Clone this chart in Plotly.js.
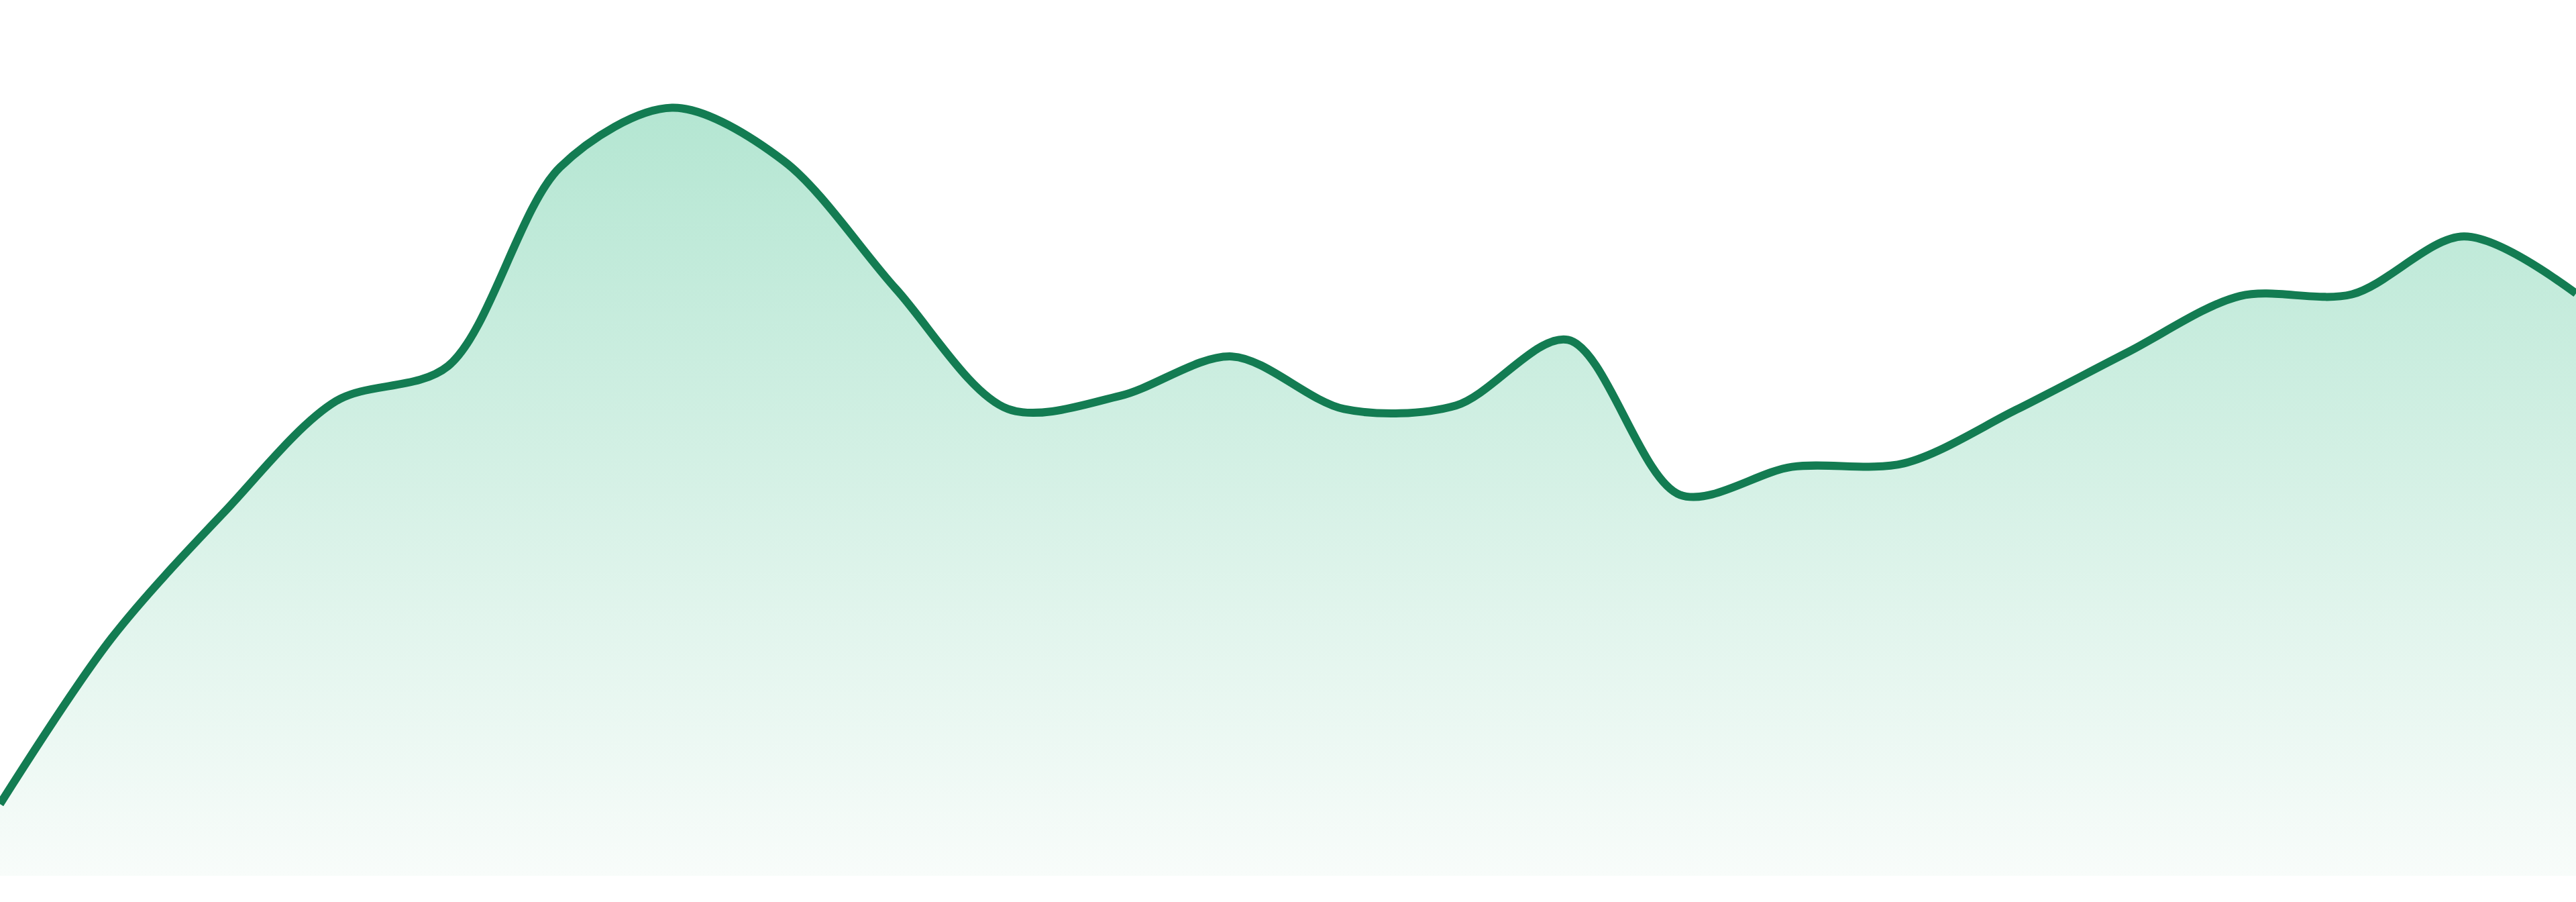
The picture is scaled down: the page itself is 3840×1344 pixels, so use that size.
<!DOCTYPE html>
<html>
<head>
<meta charset="utf-8">
<script src="https://cdn.plot.ly/plotly-3.0.1.min.js"></script>
<style>
  html, body { margin: 0; padding: 0; background: #fff; }
  #chart { width: 3840px; height: 1344px; }
</style>
</head>
<body>
<div id="chart"></div>
<script>
// one point per step (0 = baseline, 100 = top of plot)
let steps = [0, 1, 2, 3, 4, 5, 6, 7, 8, 9, 10, 11,
             12, 13, 14, 15, 16, 17, 18, 19, 20, 21, 22, 23];
let values = [8.2, 27.2, 41.5, 54.2, 58.2, 80.9, 87.7, 81.6, 67.0, 53.3, 54.8, 59.3,
              53.3, 53.7, 61.2, 43.5, 46.7, 47.1, 53.2, 59.8, 66.2, 66.4, 73.0, 66.5];

let lineColor = '#137c52';
let fillTop = '#b4e6d2';
let fillBottom = '#f8fcfa';

Plotly.newPlot('chart', [{
    x: steps,
    y: values,
    mode: 'lines',
    line: {color: lineColor, width: 12, shape: 'spline', smoothing: 0.9},
    fill: 'tozeroy',
    fillgradient: {
      type: 'vertical',
      start: 0,
      stop: Math.max(...values),
      colorscale: [[0, fillBottom], [1, fillTop]]
    },
    hoverinfo: 'skip'
  }], {
    width: 3840,
    height: 1344,
    margin: {l: 0, r: 0, t: 0, b: 39},
    paper_bgcolor: '#fff',
    plot_bgcolor: '#fff',
    showlegend: false,
    xaxis: {range: [0, 23], visible: false, fixedrange: true},
    yaxis: {range: [0, 100], visible: false, fixedrange: true}
  }, {
    staticPlot: true,
    displayModeBar: false
});
</script>
</body>
</html>
